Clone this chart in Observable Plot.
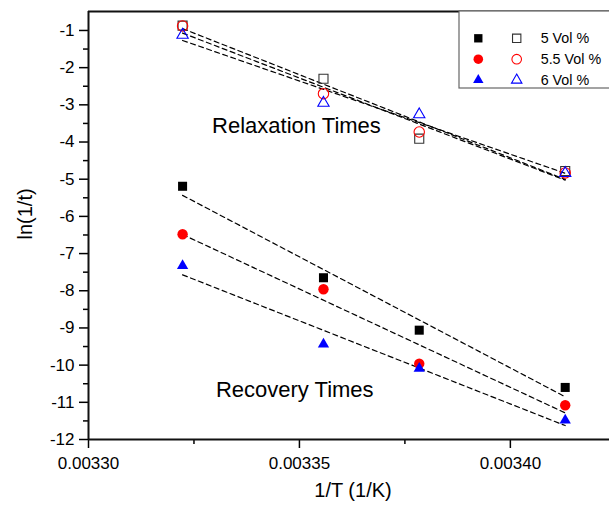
<!DOCTYPE html>
<html>
<head>
<meta charset="utf-8">
<script src="https://cdn.jsdelivr.net/npm/d3@7"></script>
<script src="https://cdn.jsdelivr.net/npm/@observablehq/plot@0.6"></script>
<style>
  html, body { margin: 0; padding: 0; background: #fff; }
  #chart { width: 609px; height: 506px; }
</style>
</head>
<body>
<div id="chart"></div>
<script>
// ---- data ----
const invT = [0.0033223, 0.0033557, 0.0033784, 0.0034130];   // 1/T (1/K)
const seriesLabels = ["5 Vol %", "5.5 Vol %", "6 Vol %"];
const relax5  = [-0.87, -2.30, -3.91, -4.78];
const relax55 = [-0.88, -2.70, -3.73, -4.83];
const relax6  = [-1.12, -2.95, -3.26, -4.84];
const recov5  = [-5.19, -7.65, -9.06, -10.60];
const recov55 = [-6.48, -7.96, -9.96, -11.08];
const recov6  = [-7.33, -9.44, -10.09, -11.48];
const yMajorTicks = [-1, -2, -3, -4, -5, -6, -7, -8, -9, -10, -11, -12];
const yMinorTicks = [-1.5, -2.5, -3.5, -4.5, -5.5, -6.5, -7.5, -8.5, -9.5, -10.5, -11.5];
const xMajorTicks = [0.00330, 0.00335, 0.00340];
const xMinorTicks = [0.003325, 0.003375];
const annotations = [
  {x: 0.0033293, y: -3.58, text: "Relaxation Times"},
  {x: 0.0033302, y: -10.68, text: "Recovery Times"}
];

// ---- styles ----
const colors = ["#000000", "#ff0000", "#0000ff"];
const openStroke = ["#333333", "#ff0000", "#0000ff"];
const symbols = ["square", "circle", "triangle"];
const radii = [5.1, 5.2, 4.2];
const font = "'Liberation Sans', Arial, sans-serif";

const relaxSets = [relax5, relax55, relax6];
const recovSets = [recov5, recov55, recov6];
const rows = [];
relaxSets.forEach((ys, i) => ys.forEach((y, j) => rows.push({x: invT[j], y, s: i, phase: "relax"})));
recovSets.forEach((ys, i) => ys.forEach((y, j) => rows.push({x: invT[j], y, s: i, phase: "recov"})));

const xDomain = [0.00330, 0.0034235];
const yDomain = [-12, -0.49];

const dotMarks = [];
for (let i = 0; i < 3; i++) {
  dotMarks.push(Plot.dot(rows.filter(d => d.phase === "recov" && d.s === i), {
    x: "x", y: "y", symbol: () => symbols[i], r: radii[i], fill: colors[i], stroke: "none"
  }));
  dotMarks.push(Plot.dot(rows.filter(d => d.phase === "relax" && d.s === i), {
    x: "x", y: "y", symbol: () => symbols[i], r: radii[i], fill: "none", stroke: openStroke[i], strokeWidth: 1.1
  }));
}

function legend(index, scales, values, dimensions) {
  const g = d3.create("svg:g");
  const left = 459, top = 11;
  g.append("rect").attr("x", left).attr("y", top).attr("width", 170).attr("height", 77)
    .attr("fill", "white").attr("stroke", "#666").attr("stroke-width", 1.2);
  seriesLabels.forEach((lab, i) => {
    const cy = 38.3 + i * 20.9;
    const sym = d3.symbol().type([d3.symbolSquare, d3.symbolCircle, d3.symbolTriangle][i])
      .size(Math.PI * radii[i] * radii[i] * 0.85);
    g.append("path").attr("d", sym()).attr("transform", `translate(478.3,${cy})`)
      .attr("fill", colors[i]);
    g.append("path").attr("d", sym()).attr("transform", `translate(516.7,${cy})`)
      .attr("fill", "none").attr("stroke", openStroke[i]).attr("stroke-width", 1.1);
    g.append("text").attr("x", 540.7).attr("y", cy).attr("dy", "0.35em")
      .attr("text-anchor", "start")
      .attr("font-size", 14.3).attr("fill", "#000").attr("font-family", font).text(lab);
  });
  return g.node();
}

const chart = Plot.plot({
  width: 609,
  height: 506,
  marginLeft: 88,
  marginRight: 0,
  marginTop: 11,
  marginBottom: 67,
  style: {fontFamily: font, background: "white", color: "black", overflow: "visible"},
  x: {domain: xDomain},
  y: {domain: yDomain},
  marks: [
    Plot.axisY({ticks: yMajorTicks, tickSize: 9, tickPadding: 5, fontSize: 17, label: null, strokeWidth: 1.5, tickFormat: d => String(d).replace("\u2212", "-")}),
    Plot.axisY({ticks: yMinorTicks, tickSize: 5, tickFormat: () => "", label: null, strokeWidth: 1.5}),
    Plot.axisX({ticks: xMajorTicks, tickSize: 9, tickPadding: 8, fontSize: 17, label: null, strokeWidth: 1.5, tickFormat: d => d.toFixed(5)}),
    Plot.axisX({ticks: xMinorTicks, tickSize: 5, tickFormat: () => "", label: null, strokeWidth: 1.5}),
    Plot.ruleX([xDomain[0]], {strokeWidth: 2, stroke: "#111"}),
    Plot.ruleY([yDomain[0]], {strokeWidth: 2, stroke: "#111"}),
    Plot.ruleY([yDomain[1]], {strokeWidth: 2.2, stroke: "#111"}),
    Plot.linearRegressionY(rows, {x: "x", y: "y", z: d => d.phase + d.s, stroke: "#000", ci: 0, strokeWidth: 1.2, strokeDasharray: "5,3.5"}),
    ...dotMarks,
    Plot.text(annotations, {x: "x", y: "y", text: "text", textAnchor: "start", fontSize: 22, fill: "#000"}),
    Plot.text(["ln(1/t)"], {frameAnchor: "left", dx: -63, dy: 14, rotate: -90, fontSize: 20, fill: "#000"}),
    Plot.text(["1/T (1/K)"], {frameAnchor: "bottom", dx: 4, dy: 57, fontSize: 20, fill: "#000"}),
    legend
  ]
});
document.getElementById("chart").appendChild(chart);
</script>
</body>
</html>
